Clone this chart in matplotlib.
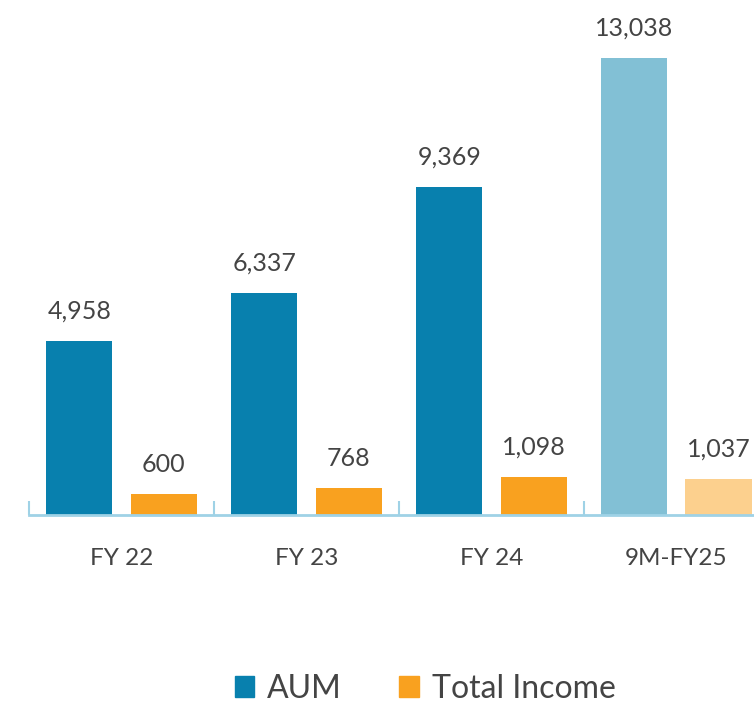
import numpy as np
import matplotlib.pyplot as plt
from matplotlib.patches import Patch

# data
categories = ['FY 22', 'FY 23', 'FY 24', '9M-FY25']
aum = [4958, 6337, 9369, 13038]
total_income = [600, 768, 1098, 1037]

blue = '#0880ae'
orange = '#f9a11f'
blue_light = '#82c0d5'
orange_light = '#fcd08e'
txt = '#444444'
axis_col = '#9fd2e6'

plt.rcParams['font.family'] = ['Lato', 'DejaVu Sans']

fig = plt.figure(figsize=(7.54, 7.06), dpi=100, facecolor='white')
ax = fig.add_axes([29 / 754, (706 - 515) / 706, (754 - 29) / 754, 515 / 706])

x = np.arange(len(categories))
w = 0.357
off = 0.228

aum_cols = [blue] * 3 + [blue_light]
inc_cols = [orange] * 3 + [orange_light]
b1 = ax.bar(x - off, aum, w, color=aum_cols)
b2 = ax.bar(x + off, total_income, w, color=inc_cols)

for bars, vals in [(b1, aum), (b2, total_income)]:
    for b, v in zip(bars, vals):
        ax.annotate(f'{v:,}', (b.get_x() + b.get_width() / 2, v),
                    xytext=(0, 21.5), textcoords='offset points',
                    ha='center', va='center', fontsize=18, color=txt)

ax.set_xlim(-0.5, 3.42)
ax.set_ylim(0, 14693)

for s in ['top', 'right', 'left']:
    ax.spines[s].set_visible(False)
ax.spines['bottom'].set_color(axis_col)
ax.spines['bottom'].set_linewidth(2)
ax.set_yticks([])

ax.set_xticks(x)
ax.set_xticklabels(categories, fontsize=17.5, color=txt)
ax.tick_params(axis='x', which='major', length=0, pad=24)
ax.set_xticks([-0.5, 0.5, 1.5, 2.5], minor=True)
ax.tick_params(axis='x', which='minor', direction='in', length=10,
               width=1.5, color=axis_col)

handles = [Patch(color=blue), Patch(color=orange)]
leg = fig.legend(handles, ['AUM', 'Total Income'], ncol=2,
                 loc='center', bbox_to_anchor=(0.564, 0.024),
                 frameon=False, fontsize=23, handlelength=0.62,
                 handleheight=0.62, handletextpad=0.4, columnspacing=1.8,
                 borderpad=0.1)
for t in leg.get_texts():
    t.set_color(txt)

fig.savefig('out.png', dpi=100)
